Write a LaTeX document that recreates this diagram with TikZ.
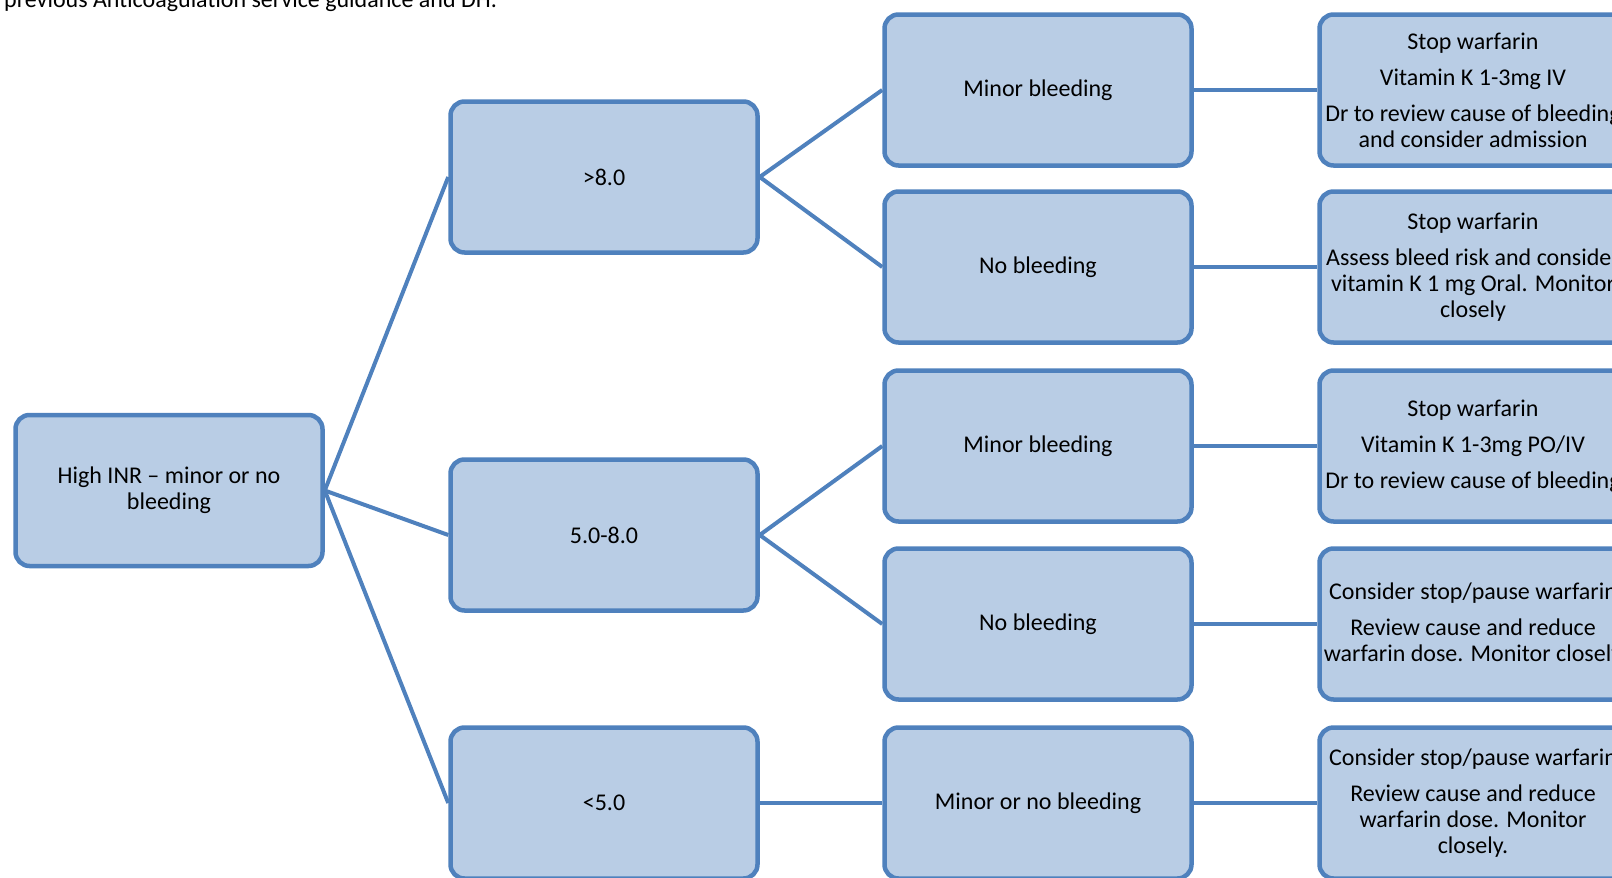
\documentclass[tikz,border=0pt]{standalone}
\usepackage{fontspec}
\setmainfont{Carlito}
\definecolor{boxfill}{HTML}{B9CDE5}
\definecolor{boxline}{HTML}{4F81BD}
\begin{document}
\begin{tikzpicture}[x=1pt,y=-1pt,
  box/.style={draw=boxline, fill=boxfill, line width=4.5pt, rounded corners=14pt,
    minimum width=307pt, minimum height=151pt, align=center,
    font=\fontsize{24}{26}\selectfont, inner sep=0pt},
  link/.style={draw=boxline, line width=4pt}]
\useasboundingbox (0,0) rectangle (1612,878);
\clip (0,0) rectangle (1612,878);
\node[anchor=base west, font=\fontsize{24}{26}\selectfont, inner sep=0pt] (note) at (4,8) {previous Anticoagulation service guidance and DH.};
% column 1
\node[box] (root) at (169,490.5) {High INR – minor or no\\bleeding};
% column 2
\node[box] (g8) at (604,177) {>8.0};
\node[box] (g58) at (604,535) {5.0-8.0};
\node[box] (g5) at (604,803) {<5.0};
% column 3
\node[box] (b1) at (1038,90) {Minor bleeding};
\node[box] (b2) at (1038,267) {No bleeding};
\node[box] (b3) at (1038,446) {Minor bleeding};
\node[box] (b4) at (1038,624) {No bleeding};
\node[box] (b5) at (1038,803) {Minor or no bleeding};
% column 4
\node[box] (a1) at (1473,90) {Stop warfarin\\[10pt]Vitamin K 1-3mg IV\\[10pt]Dr to review cause of bleeding\\and consider admission};
\node[box] (a2) at (1473,267) {Stop warfarin\\[10pt]Assess bleed risk and consider\\vitamin K 1 mg Oral. Monitor\\closely};
\node[box] (a3) at (1473,446) {Stop warfarin\\[10pt]Vitamin K 1-3mg PO/IV\\[10pt]Dr to review cause of bleeding};
\node[box] (a4) at (1473,624) {Consider stop/pause warfarin\\[10pt]Review cause and reduce\\warfarin dose. Monitor closely};
\node[box] (a5) at (1473,803) {Consider stop/pause warfarin\\[10pt]Review cause and reduce\\warfarin dose. Monitor\\closely.};
% connectors
\draw[link] (root.east) -- (g8.west);
\draw[link] (root.east) -- (g58.west);
\draw[link] (root.east) -- (g5.west);
\draw[link] (g8.east) -- (b1.west);
\draw[link] (g8.east) -- (b2.west);
\draw[link] (g58.east) -- (b3.west);
\draw[link] (g58.east) -- (b4.west);
\draw[link] (g5.east) -- (b5.west);
\draw[link] (b1.east) -- (a1.west);
\draw[link] (b2.east) -- (a2.west);
\draw[link] (b3.east) -- (a3.west);
\draw[link] (b4.east) -- (a4.west);
\draw[link] (b5.east) -- (a5.west);
\end{tikzpicture}
\end{document}
